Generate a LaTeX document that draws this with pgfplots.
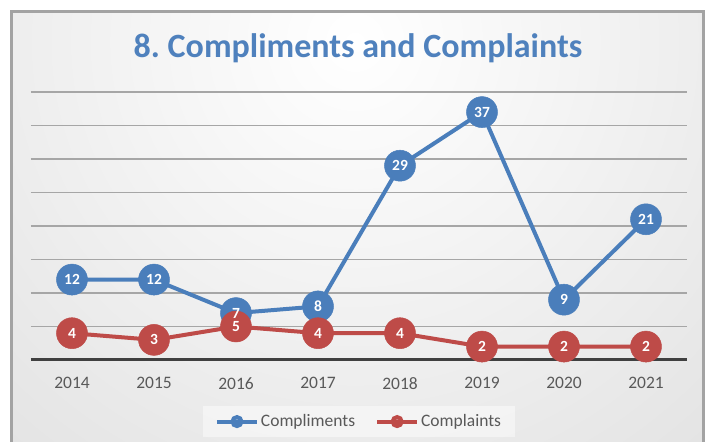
\documentclass[border=0pt]{standalone}
\usepackage{fontspec}
\setmainfont{Carlito}
\usepackage{pgfplots}
\usepackage{pgfplotstable}
\pgfplotsset{compat=1.18}
\definecolor{cblue}{HTML}{4A7EBB}
\definecolor{cred}{HTML}{BE4B48}
\definecolor{ctitle}{HTML}{4F81BD}
\definecolor{ctext}{HTML}{595959}
\definecolor{cgrid}{HTML}{A6A6A6}
\definecolor{cframe}{HTML}{A3A3A3}
\definecolor{cbase}{HTML}{404040}

\pgfplotstableread{
x comp compl
0 12 4
1 12 3
2 7  5
3 8  4
4 29 4
5 37 2
6 9  2
7 21 2
}\datatable

\begin{document}
\begin{tikzpicture}
\useasboundingbox (0,0) rectangle (713pt,442pt);
\fill[white] (0,0) rectangle (713pt,442pt);
\begin{scope}
\clip (11.5pt,0pt) rectangle (703.5pt,430.5pt);
\shade[inner color=white,outer color=black!17] (-495pt,-450pt) rectangle (1205pt,1250pt);
\end{scope}
\draw[cframe,line width=3pt] (11.5pt,-20pt) rectangle (703.5pt,430.5pt);
\node[font=\bfseries\fontsize{34}{40}\selectfont,text=ctitle] at (358pt,394pt) {8.\ Compliments and Complaints};
\begin{axis}[
  at={(31pt,82pt)},anchor=south west,scale only axis,
  width=656pt,height=268pt,
  xmin=-0.5,xmax=7.5,ymin=0,ymax=40,
  clip=false,
  /pgf/number format/assume math mode=true,
  axis line style={draw=none},
  major tick length=0pt,
  xtick={0,1,2,3,4,5,6,7},
  xticklabels={2014,2015,2016,2017,2018,2019,2020,2021},
  ytick={5,10,...,40},
  yticklabels={},
  ymajorgrids,
  grid style={cgrid,line width=1.2pt},
  extra y ticks={0},
  extra y tick labels={},
  extra y tick style={grid style={cbase,line width=3pt}},
  tick label style={text=ctext,font=\fontsize{17.5}{20}\selectfont},
  xticklabel style={yshift=-14pt},
  legend style={at={(0.5,-0.17)},anchor=north,legend columns=2,
    draw=none,fill=white,fill opacity=0.45,text opacity=1,
    text=ctext,font=\fontsize{17.5}{20}\selectfont,
    inner xsep=12pt,inner ysep=7pt,
    /tikz/every even column/.append style={column sep=18pt}},
  legend image code/.code={\draw[line width=4pt] (0pt,0pt)--(40pt,0pt); \fill (20pt,0pt) circle (4.5pt);},
]
\addplot[cblue,line width=4pt,mark=*,mark size=15.5pt,mark options={solid,line width=0.5pt}] table[x=x,y=comp]{\datatable};
\addlegendentry{Compliments}
\addplot[cred,line width=4pt,mark=*,mark size=15.5pt,mark options={solid,line width=0.5pt}] table[x=x,y=compl]{\datatable};
\addlegendentry{Complaints}
\addplot[draw=none,mark=none,forget plot,nodes near coords,point meta=y,
  every node near coord/.append style={anchor=center,inner sep=0pt,text=white,font=\bfseries\fontsize{15.5}{18}\selectfont}] table[x=x,y=comp]{\datatable};
\addplot[draw=none,mark=none,forget plot,nodes near coords,point meta=y,
  every node near coord/.append style={anchor=center,inner sep=0pt,text=white,font=\bfseries\fontsize{15.5}{18}\selectfont}] table[x=x,y=compl]{\datatable};
\end{axis}
\end{tikzpicture}
\end{document}
